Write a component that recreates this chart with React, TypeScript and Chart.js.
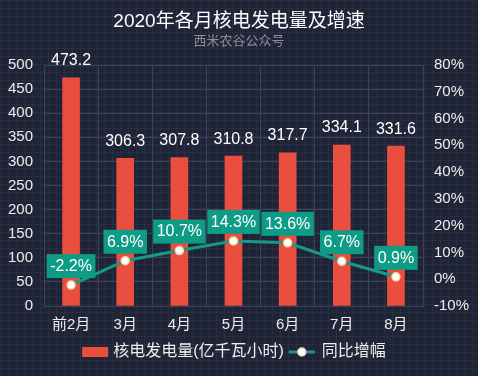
import React, { useEffect, useRef } from 'react';
import { Chart, registerables } from 'chart.js';

Chart.register(...registerables);

const categories = ['前2月', '3月', '4月', '5月', '6月', '7月', '8月'];
const generation = [473.2, 306.3, 307.8, 310.8, 317.7, 334.1, 331.6];
const growth = [-2.2, 6.9, 10.7, 14.3, 13.6, 6.7, 0.9];

const TITLE = '2020年各月核电发电量及增速';
const SUBTITLE = '西米农谷公众号';
const BAR_NAME = '核电发电量(亿千瓦小时)';
const LINE_NAME = '同比增幅';

const FONT = '"Liberation Sans", "Noto Sans CJK SC", sans-serif';
const BG = '#1f2437';
const GRID = '#3b425d';
const TEXT = '#eeeeee';
const BAR_COLOR = '#ea4e3e';
const LINE_COLOR = '#17998a';
const BOX_COLOR = '#0f9c86';
const POINT_BORDER = '#f6d6a8';

const overlayPlugin = {
  id: 'overlay',
  afterDatasetsDraw(chart: any) {
    const ctx = chart.ctx as CanvasRenderingContext2D;
    ctx.save();
    ctx.textAlign = 'center';
    ctx.textBaseline = 'middle';
    ctx.font = `16px ${FONT}`;
    ctx.fillStyle = '#ffffff';
    const barMeta = chart.getDatasetMeta(0);
    barMeta.data.forEach((el: any, i: number) => {
      ctx.fillText(generation[i].toFixed(1), el.x, el.y - 17);
    });
    const lineMeta = chart.getDatasetMeta(1);
    lineMeta.data.forEach((el: any, i: number) => {
      const t = growth[i].toFixed(1) + '%';
      const w = ctx.measureText(t).width + 7;
      ctx.fillStyle = BOX_COLOR;
      ctx.fillRect(el.x - w / 2, el.y - 31, w, 24);
      ctx.fillStyle = '#ffffff';
      ctx.fillText(t, el.x, el.y - 18.5);
    });
    ctx.restore();
  },
  afterDraw(chart: any) {
    const ctx = chart.ctx as CanvasRenderingContext2D;
    const W = chart.width;
    ctx.save();
    ctx.textAlign = 'center';
    ctx.textBaseline = 'middle';
    ctx.fillStyle = '#ffffff';
    ctx.font = `19px ${FONT}`;
    ctx.fillText(TITLE, W / 2, 22);
    ctx.fillStyle = '#8c8f99';
    ctx.font = `13px ${FONT}`;
    ctx.fillText(SUBTITLE, W / 2, 41);

    const ly = 352;
    ctx.font = `16px ${FONT}`;
    const w1 = ctx.measureText(BAR_NAME).width;
    const w2 = ctx.measureText(LINE_NAME).width;
    const total = 26 + 5 + w1 + 5 + 26 + 7 + w2;
    let x = W / 2 - total / 2 - 5;
    ctx.fillStyle = BAR_COLOR;
    ctx.fillRect(x, ly - 5, 26, 10);
    x += 31;
    ctx.textAlign = 'left';
    ctx.fillStyle = TEXT;
    ctx.fillText(BAR_NAME, x, ly);
    x += w1 + 5;
    ctx.strokeStyle = LINE_COLOR;
    ctx.lineWidth = 3;
    ctx.beginPath();
    ctx.moveTo(x, ly);
    ctx.lineTo(x + 26, ly);
    ctx.stroke();
    ctx.beginPath();
    ctx.arc(x + 13, ly, 4, 0, Math.PI * 2);
    ctx.fillStyle = '#ffffff';
    ctx.fill();
    ctx.lineWidth = 1.5;
    ctx.strokeStyle = POINT_BORDER;
    ctx.stroke();
    x += 33;
    ctx.fillStyle = TEXT;
    ctx.fillText(LINE_NAME, x, ly);
    ctx.restore();
  },
};

export default function App() {
  const ref = useRef<HTMLCanvasElement | null>(null);

  useEffect(() => {
    document.body.style.margin = '0';
    const canvas = ref.current;
    if (!canvas) return;
    const tickFont = { size: 15, family: FONT };
    const chart = new Chart(canvas, {
      type: 'bar',
      data: {
        labels: categories,
        datasets: [
          {
            type: 'bar',
            label: BAR_NAME,
            data: generation,
            backgroundColor: BAR_COLOR,
            barThickness: 17,
            yAxisID: 'y',
            order: 2,
          },
          {
            type: 'line',
            label: LINE_NAME,
            data: growth,
            borderColor: LINE_COLOR,
            borderWidth: 3,
            pointRadius: 4,
            pointBackgroundColor: '#ffffff',
            pointBorderColor: POINT_BORDER,
            pointBorderWidth: 1.5,
            tension: 0,
            yAxisID: 'y1',
            order: 1,
          },
        ],
      } as any,
      options: {
        responsive: false,
        animation: false,
        layout: { padding: { top: 65, bottom: 40, left: 0, right: 0 } },
        plugins: {
          legend: { display: false },
          title: { display: false },
          tooltip: { enabled: false },
        },
        scales: {
          x: {
            grid: { color: GRID, drawTicks: false, offset: true },
            border: { color: GRID },
            ticks: { color: TEXT, font: tickFont, padding: 10, maxRotation: 0 },
            afterFit: (s: any) => {
              s.height = 30;
            },
          },
          y: {
            position: 'left',
            min: 0,
            max: 500,
            ticks: { stepSize: 50, color: TEXT, font: tickFont, padding: 11 },
            grid: { color: GRID, drawTicks: false },
            border: { color: GRID },
            afterFit: (s: any) => {
              s.width = 44;
            },
          },
          y1: {
            position: 'right',
            min: -10,
            max: 80,
            ticks: {
              stepSize: 10,
              color: TEXT,
              font: tickFont,
              padding: 11,
              callback: (v: any) => v + '%',
            },
            grid: { display: false, drawTicks: false },
            border: { display: false },
            afterFit: (s: any) => {
              s.width = 55;
            },
          },
        },
      } as any,
      plugins: [overlayPlugin],
    });
    return () => chart.destroy();
  }, []);

  return (
    <div
      style={{
        position: 'fixed',
        left: 0,
        top: 0,
        width: 478,
        height: 376,
        backgroundColor: BG,
        backgroundImage:
          'linear-gradient(rgba(255,255,255,0.035) 1px, transparent 1px), linear-gradient(90deg, rgba(255,255,255,0.035) 1px, transparent 1px)',
        backgroundSize: '8px 8px',
      }}
    >
      <canvas ref={ref} width={478} height={376} style={{ display: 'block', width: 478, height: 376 }} />
    </div>
  );
}
